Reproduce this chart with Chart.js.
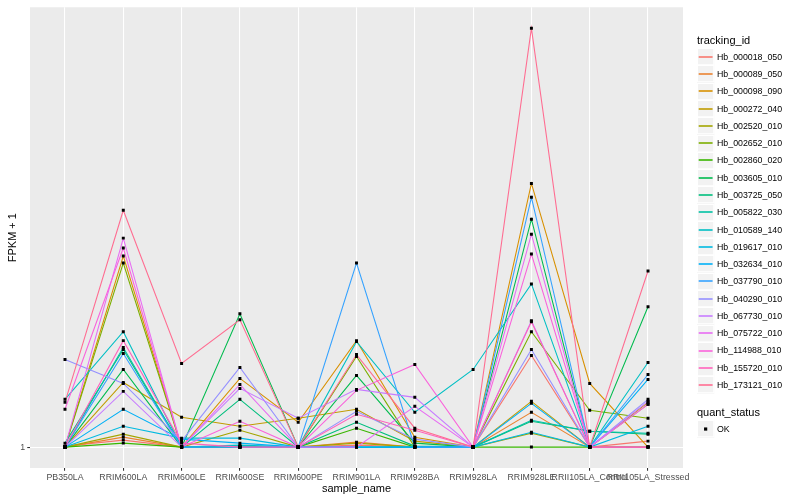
<!DOCTYPE html>
<html><head><meta charset="utf-8">
<script src="https://cdn.jsdelivr.net/npm/chart.js@4"></script>
<style>
body{margin:0;background:#fff;}
#wrap{position:relative;width:800px;height:500px;font-family:"Liberation Sans",Arial,Helvetica,sans-serif;overflow:hidden;}
#c{position:absolute;left:0;top:0;}
.ttl{position:absolute;left:697px;font-size:11px;color:#000;line-height:13px;white-space:nowrap;}
.lab{position:absolute;left:717px;font-size:8.8px;color:#000;line-height:10px;white-space:nowrap;}
</style></head>
<body><div id="wrap"><canvas id="c" width="800" height="500"></canvas></div>
<script>
const categories = ["PB350LA","RRIM600LA","RRIM600LE","RRIM600SE","RRIM600PE","RRIM901LA","RRIM928BA","RRIM928LA","RRIM928LE","RRII105LA_Control","RRII105LA_Stressed"];
const yTicks = [1];
const quantStatus = ["OK"];

const Hb_000018_050 = [1.1,1.7,1,1,1,1.2,1,1,10.2,1,1.6];
const Hb_000089_050 = [1,2.0,1,1,1,1.5,1,1,4.5,1,5.3];
const Hb_000098_090 = [1,20.2,1,7.9,3.5,11.7,2.0,1,27.5,7.4,1];
const Hb_000272_040 = [1,7.5,4.0,3.1,3.9,4.8,1.6,1,5.6,1,5.5];
const Hb_002520_010 = [1,2.3,1,2.7,1,1.4,1,1,2.4,1,1];
const Hb_002652_010 = [1,19.5,1,1,1,10.1,1,1,12.6,4.7,3.9];
const Hb_002860_020 = [1,1.4,1,1,1,2.9,1,1,1,1,1];
const Hb_003605_010 = [1,8.8,1,14.4,1,8.2,1.4,1,23.9,1,15.1];
const Hb_003725_050 = [1.4,10.8,1,5.8,1,3.5,1.1,1,3.6,2.6,2.3];
const Hb_005822_030 = [1,11.0,1,1,1,1,1,1,3.7,2.6,2.4];
const Hb_010589_140 = [5.8,12.6,1,1.2,1,11.6,4.5,8.8,17.4,1,9.5];
const Hb_019617_010 = [1,3.1,1.9,1.9,1,1,1,1,2.5,1,3.1];
const Hb_032634_010 = [1,4.8,1.8,1.4,1,1,1,1,5.4,1,7.8];
const Hb_037790_010 = [1,10.4,1,1,1,19.5,1,1,26.1,1,8.3];
const Hb_040290_010 = [9.8,7.4,1.6,9.0,1,4.6,1.8,1,10.8,1,5.8];
const Hb_067730_010 = [1,6.6,1,6.9,3.9,6.8,6.0,1,13.7,1,5.6];
const Hb_075722_010 = [1,22.0,1,7.3,1,1,5.1,1,22.4,1,5.3];
const Hb_114988_010 = [4.8,21.0,1,3.6,1,6.7,9.3,1,20.4,1,1];
const Hb_155720_010 = [1,11.7,1.4,1,1,4.3,2.7,1,13.6,1,1];
const Hb_173121_010 = [5.5,24.8,9.4,13.8,1,10.3,2.9,1,43.1,1,18.7];

const seriesNames = ["Hb_000018_050","Hb_000089_050","Hb_000098_090","Hb_000272_040","Hb_002520_010","Hb_002652_010","Hb_002860_020","Hb_003605_010","Hb_003725_050","Hb_005822_030","Hb_010589_140","Hb_019617_010","Hb_032634_010","Hb_037790_010","Hb_040290_010","Hb_067730_010","Hb_075722_010","Hb_114988_010","Hb_155720_010","Hb_173121_010"];
const seriesValues = [Hb_000018_050,Hb_000089_050,Hb_000098_090,Hb_000272_040,Hb_002520_010,Hb_002652_010,Hb_002860_020,Hb_003605_010,Hb_003725_050,Hb_005822_030,Hb_010589_140,Hb_019617_010,Hb_032634_010,Hb_037790_010,Hb_040290_010,Hb_067730_010,Hb_075722_010,Hb_114988_010,Hb_155720_010,Hb_173121_010];

const palette = ["#F8766D","#EA8331","#D89000","#C09B00","#A3A500","#7CAE00","#39B600","#00BB4E","#00BF7D","#00C1A3","#00BFC4","#00BAE0","#00B0F6","#35A2FF","#9590FF","#C77CFF","#E76BF3","#FA62DB","#FF62BC","#FF6C91"];

const FONT = '"Liberation Sans", Arial, Helvetica, sans-serif';
const KEY_STEP = 17.28, KEY_Y0 = 48.1, KEY2_Y0 = 420.4, KEY_X = 697, KEY_S = 17.28;

const datasets = [];
seriesValues.forEach((vals, i) => {
  datasets.push({
    label: seriesNames[i],
    data: vals.map((v, j) => ({x: j, y: v})),
    borderColor: palette[i],
    borderWidth: 1.07,
    pointRadius: 0,
    tension: 0,
    fill: false,
    order: 100 - i
  });
});
seriesValues.forEach((vals, i) => {
  datasets.push({
    label: seriesNames[i] + " " + quantStatus[0],
    data: vals.map((v, j) => ({x: j, y: v})),
    showLine: false,
    pointStyle: 'rect',
    pointRadius: 2.1,
    pointBackgroundColor: '#000',
    pointBorderWidth: 0,
    order: 0
  });
});

const bgPlugin = {
  id: 'bg',
  beforeDraw(chart) {
    const {ctx, chartArea: a} = chart;
    ctx.save();
    ctx.fillStyle = '#fff';
    ctx.fillRect(0, 0, chart.width, chart.height);
    ctx.fillStyle = '#EBEBEB';
    ctx.fillRect(a.left, a.top, a.right - a.left, a.bottom - a.top);
    ctx.restore();
  },
  afterDraw(chart) {
    const ctx = chart.ctx;
    ctx.save();
    const box = (y) => {
      ctx.fillStyle = '#F2F2F2';
      ctx.fillRect(KEY_X, y, KEY_S, KEY_S);
      ctx.strokeStyle = '#fff'; ctx.lineWidth = 1;
      ctx.strokeRect(KEY_X + 0.5, Math.round(y) + 0.5, KEY_S - 1, KEY_S - 1);
    };
    seriesNames.forEach((n, i) => {
      const y = KEY_Y0 + i * KEY_STEP;
      box(y);
      const cy = Math.round(y + KEY_S / 2);
      ctx.strokeStyle = palette[i]; ctx.lineWidth = 1.6;
      ctx.beginPath(); ctx.moveTo(KEY_X + 1.7, cy); ctx.lineTo(KEY_X + KEY_S - 1.7, cy); ctx.stroke();
    });
    quantStatus.forEach((q, i) => {
      const y = KEY2_Y0 + i * KEY_STEP;
      box(y);
      ctx.fillStyle = '#000';
      ctx.fillRect(KEY_X + KEY_S / 2 - 1.6, y + KEY_S / 2 - 1.6, 3.2, 3.2);
    });
    ctx.restore();
  }
};

new Chart(document.getElementById('c'), {
  type: 'line',
  data: {datasets},
  plugins: [bgPlugin],
  options: {
    responsive: false,
    animation: false,
    layout: {padding: {left: 0, top: 5, right: 117, bottom: 0}},
    plugins: {legend: {display: false}, tooltip: {enabled: false}},
    scales: {
      x: {
        type: 'linear',
        min: -0.6, max: categories.length - 1 + 0.6,
        afterBuildTicks(s) { s.ticks = categories.map((c, i) => ({value: i})); },
        afterFit(s) { s.height = 32; },
        ticks: {
          autoSkip: false, maxRotation: 0, minRotation: 0, padding: 1.5,
          color: '#4D4D4D', font: {family: FONT, size: 8.8},
          callback: (v) => categories[v]
        },
        grid: {color: '#fff', lineWidth: 1.07, tickColor: '#333333', tickLength: 2.75, drawOnChartArea: true},
        border: {display: false},
        title: {display: true, text: 'sample_name', color: '#000', font: {family: FONT, size: 11}, padding: {top: 0, bottom: 4}}
      },
      y: {
        type: 'linear',
        min: -1.1, max: 45.2,
        afterBuildTicks(s) { s.ticks = yTicks.map(v => ({value: v})); },
        afterFit(s) { s.width = 30; },
        ticks: {color: '#4D4D4D', font: {family: FONT, size: 8.8}, padding: 2, callback: (v) => String(v)},
        grid: {color: '#fff', lineWidth: 1.07, tickColor: '#333333', tickLength: 2.75},
        border: {display: false},
        title: {display: true, text: 'FPKM + 1', color: '#000', font: {family: FONT, size: 11}, padding: {top: 6, bottom: 0}}
      }
    }
  }
});

// legend text (HTML)
const wrap = document.getElementById('wrap');
function add(cls, top, text) {
  const d = document.createElement('div');
  d.className = cls; d.style.top = top + 'px'; d.textContent = text;
  wrap.appendChild(d); return d;
}
add('ttl', 34, 'tracking_id');
seriesNames.forEach((n, i) => add('lab', KEY_Y0 + i * KEY_STEP + 3.6, n));
add('ttl', 405.5, 'quant_status');
quantStatus.forEach((q, i) => add('lab', KEY2_Y0 + i * KEY_STEP + 3.6, q));
</script></body></html>
